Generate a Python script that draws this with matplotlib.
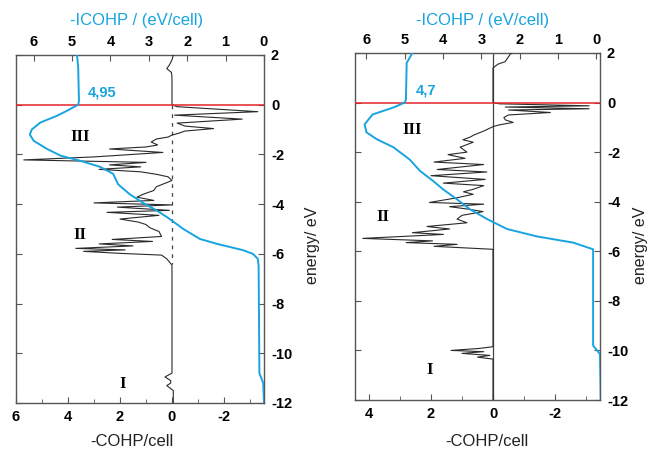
import numpy as np
import matplotlib
matplotlib.use("Agg")
import matplotlib.pyplot as plt

plt.rcParams["font.family"] = ["Liberation Sans", "DejaVu Sans"]
plt.rcParams["axes.unicode_minus"] = False

# -COHP curves (energy in eV, -COHP per cell)
e_cohp_a = [2.0, 1.8, 1.6, 1.45, 1.3, 1.1, 0.0, -0.08, -0.28, -0.42, -0.58, -0.74, -0.86, -0.96,
            -1.06, -1.15, -1.22, -1.3, -1.38, -1.5, -1.62, -1.7, -1.78, -1.92, -2.1, -2.22, -2.32,
            -2.42, -2.5, -2.6, -2.7, -2.8, -2.9, -3.05, -3.3, -3.45, -3.6, -3.72, -3.85, -3.95,
            -4.03, -4.12, -4.25, -4.33, -4.45, -4.6, -4.72, -4.82, -4.95, -5.1, -5.2, -5.3, -5.42,
            -5.5, -5.6, -5.68, -5.78, -5.84, -5.9, -5.98, -6.05, -6.2, -6.45, -10.8, -10.95, -11.1,
            -11.2, -11.3, -11.5, -12.0]
cohp_a = [-0.05, 0.0, 0.1, 0.2, 0.02, 0.0, 0.0, -0.2, -3.3, -0.1, -2.7, -0.2, -0.5, -1.6,
          -0.5, -0.25, 0.0, 0.15, 0.6, 0.8, 0.55, 1.0, 2.4, 0.35, 3.0, 5.7, 1.0,
          2.4, 1.2, 2.8, 1.2, 0.6, 0.15, 0.0, 0.6, 0.7, 1.1, 1.35, 0.7, 3.0,
          0.0, 2.1, 0.1, 2.5, 0.5, 2.0, 1.3, 1.0, 0.85, 0.5, 0.45, 0.4, 2.3,
          0.75, 2.8, 1.5, 3.7, 1.8, 3.4, 2.0, 0.4, 0.2, 0.0, 0.0, 0.27, 0.05,
          0.05, 0.2, -0.05, -0.05]

e_cohp_b = [2.0, 1.94, 1.65, 1.55, 1.4, 0.0, -0.05, -0.13, -0.18, -0.25, -0.3, -0.4, -0.5, -0.6,
            -0.7, -0.8, -0.9, -0.97, -1.15, -1.3, -1.4, -1.5, -1.6, -1.8, -2.0, -2.1, -2.25,
            -2.4, -2.5, -2.7, -2.8, -2.95, -3.1, -3.25, -3.35, -3.5, -3.6, -3.7, -3.85, -4.03,
            -4.1, -4.2, -4.3, -4.4, -4.55, -4.7, -4.85, -5.0, -5.1, -5.25, -5.32, -5.48, -5.58,
            -5.65, -5.72, -5.8, -5.92, -9.85, -9.92, -10.0, -10.05, -10.12, -10.2, -10.27, -10.35,
            -12.0]
cohp_b = [-0.6, -0.55, -0.39, -0.16, 0.0, 0.0, -0.2, -3.1, -0.4, -3.1, -0.5, -1.85, -0.5, -0.35,
          -0.4, -0.65, -0.2, 0.0, 0.3, 0.6, 0.75, 0.97, 0.64, 1.06, 0.84, 1.45, 0.9,
          1.9, 0.3, 1.8, 0.2, 2.0, 0.25, 1.6, 0.3, 0.64, 0.95, 0.64, 1.2, 2.05,
          0.3, 1.4, 0.8, 0.32, 1.0, 1.16, 0.84, 2.13, 1.4, 2.6, 1.6, 4.2, 1.95,
          2.8, 1.16, 1.9, 0.0, 0.0, 0.45, 1.35, 0.3, 1.0, 0.1, 0.5, 0.0,
          0.0]

# -ICOHP curves (energy in eV, -ICOHP in eV/cell)
e_icohp_a = [2.0, 1.5, 0.15, 0.0, -0.25, -0.45, -0.72, -1.0, -1.2, -1.45, -1.78, -2.05, -2.25,
             -2.5, -2.78, -3.2, -3.6, -3.95, -4.25, -4.55, -5.0, -5.4, -5.6, -5.85, -6.0, -6.2,
             -6.5, -10.8, -11.2, -12.0]
icohp_a = [4.87, 4.84, 4.82, 4.84, 5.14, 5.4, 5.83, 6.05, 6.1, 6.0, 5.65, 5.3, 4.8,
           4.27, 3.93, 3.8, 3.5, 3.15, 2.8, 2.5, 2.1, 1.67, 1.22, 0.55, 0.29, 0.16,
           0.14, 0.12, 0.02, 0.0]

e_icohp_b = [2.0, 1.6, 0.12, 0.0, -0.2, -0.48, -0.88, -1.2, -1.48, -1.8, -2.3, -2.76, -3.15,
             -3.5, -3.9, -4.3, -4.7, -5.1, -5.4, -5.65, -5.92, -9.8, -10.15, -12.0]
icohp_b = [4.8, 4.95, 4.97, 5.0, 5.3, 5.84, 6.05, 6.0, 5.73, 5.3, 4.87, 4.6, 4.27,
           4.0, 3.64, 3.3, 2.85, 2.33, 1.55, 0.6, 0.08, 0.08, -0.1, -0.12]

icohp_ef = ["4,95", "4,7"]

cyan = "#18a4e0"
red = "#e3232b"
frame = "#555555"

W, H = 650, 453
fig = plt.figure(figsize=(6.5, 4.53), dpi=100)


def px_rect(x0, y0, x1, y1):
    return [x0 / W, 1 - y1 / H, (x1 - x0) / W, (y1 - y0) / H]


def panel(rect, e_c, c, e_i, ic, cxlim, ixlim, ef_label, ef_pos, numerals, dashed):
    ax = fig.add_axes(rect)
    ax.plot(c, e_c, color="#2a2a2a", lw=0.8, zorder=3)
    ax.axhline(0, color=red, lw=1.1, zorder=4)
    if dashed:
        ax.plot([0, 0], [0, -6.4], color="#444444", lw=0.9, ls=(0, (3, 4)), zorder=2)
    else:
        ax.axvline(0, color="#444444", lw=0.9, zorder=2)
    ax.set_xticks([6, 4, 2, 0, -2])
    ax.set_xticks(np.arange(-3, 7, 1), minor=True)
    ax.set_yticks(np.arange(-12, 3, 2))
    # limits after the ticks, or set_xticks widens the view
    ax.set_xlim(*cxlim)
    ax.set_ylim(-12, 2)
    ax.yaxis.tick_right()
    ax.tick_params(axis="both", which="both", direction="in", top=False,
                   left=True, right=True, labelleft=False, labelright=True)
    ax.tick_params(which="major", length=4, pad=5, labelsize=10.5, color=frame)
    ax.tick_params(which="minor", length=3, color=frame)
    for lab in ax.get_xticklabels() + ax.get_yticklabels():
        lab.set_fontweight("bold")
    for s in ax.spines.values():
        s.set_color(frame)
        s.set_linewidth(1.0)

    ax2 = ax.twiny()
    ax2.plot(ic, e_i, color=cyan, lw=1.4, zorder=5)
    ax2.set_xticks(range(0, 7))
    ax2.set_xlim(*ixlim)
    ax2.set_ylim(-12, 2)
    ax2.tick_params(axis="x", direction="in", length=4, pad=4, labelsize=10.5, color=frame)
    for lab in ax2.get_xticklabels():
        lab.set_fontweight("bold")
    for s in ax2.spines.values():
        s.set_visible(False)

    ax2.text(ef_pos[0], ef_pos[1], ef_label, color=cyan, fontsize=10.5,
             fontweight="bold", ha="left", va="bottom")
    for txt, xx, yy in numerals:
        ax.text(xx, yy, txt, family="Liberation Serif", fontweight="bold",
                fontsize=12, ha="center", va="center")
    return ax


panel(px_rect(16, 55, 264, 403), e_cohp_a, cohp_a, e_icohp_a, icohp_a,
      (6, -3.54), (6.46, 0), icohp_ef[0], (4.6, 0.2),
      [("III", 3.55, -1.3), ("II", 3.55, -5.25), ("I", 1.9, -11.25)], True)
panel(px_rect(355, 53, 600, 400), e_cohp_b, cohp_b, e_icohp_b, icohp_b,
      (4.45, -3.45), (6.3, -0.1), icohp_ef[1], (4.7, 0.2),
      [("III", 2.6, -1.1), ("II", 3.55, -4.6), ("I", 2.05, -10.8)], False)

for xc in (137, 483):
    fig.text(xc / W, 1 - 20 / H, "-ICOHP / (eV/cell)", color=cyan, fontsize=12,
             ha="center", va="center")
for xc in (132, 487):
    fig.text(xc / W, 1 - 441 / H, "-COHP/cell", color="#222222", fontsize=12,
             ha="center", va="center")
for xc in (312, 640):
    fig.text(xc / W, 1 - 245 / H, "energy/ eV", color="#222222", fontsize=11.5,
             rotation=90, ha="center", va="center")

fig.savefig("out.png", dpi=100)
